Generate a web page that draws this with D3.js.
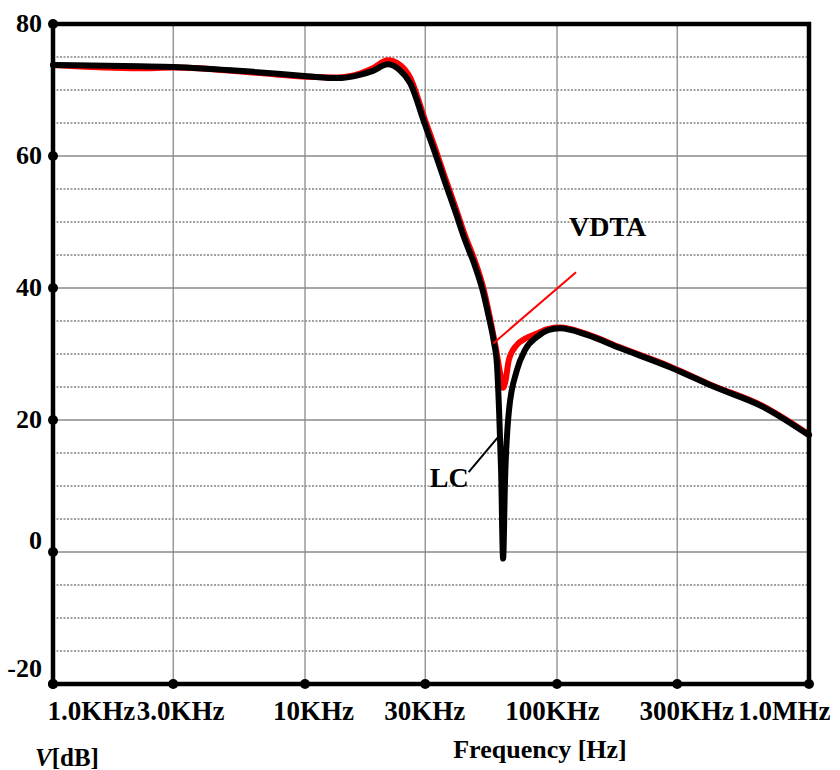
<!DOCTYPE html>
<html>
<head>
    <script src="https://d3js.org/d3.v7.min.js"></script>
    <style>
        body { margin: 0; background: #fff; }
        text { font-family: "Liberation Serif", "Times New Roman", serif; font-weight: bold; fill: #000; }
    </style>
</head>
<body>
    <div id="chart"></div>
    <script>
        // frequencies (Hz)
        const freqHz = [1000, 2200, 3000, 6450, 10200, 13400, 16500, 18600, 21300, 23800, 26100,
            29900, 32800, 35900, 39400, 43100, 47300, 50900, 53700, 56200, 57800, 58900, 60000,
            61100, 62200, 64500, 69400, 74600, 83300, 92100, 102800, 131500, 177800, 280700,
            415900, 656700, 1000000];
        // LC filter response (dB)
        const lcDb = [73.8, 73.6, 73.5, 72.7, 72.1, 71.8, 72.3, 72.9, 73.9, 73.0, 71.1,
            64.8, 60.5, 56.1, 51.7, 47.3, 43.3, 39.4, 35.5, 31.8, 28.3, 21.5, 12.4,
            -1.0, 10.9, 21.5, 27.6, 30.6, 32.6, 33.6, 33.9, 32.9, 30.9, 28.0,
            25.1, 22.0, 17.7];
        // VDTA filter response (dB)
        const vdtaDb = [73.8, 73.3, 73.4, 72.6, 72.0, 71.9, 72.5, 73.3, 74.5, 73.8, 71.9,
            65.5, 61.2, 56.8, 52.4, 48.0, 44.0, 40.1, 36.2, 32.4, 29.9, 28.0, 26.3,
            24.9, 25.6, 29.2, 31.4, 32.3, 33.1, 33.8, 34.0, 33.0, 31.0, 28.1,
            25.2, 22.1, 17.8];

        const xTicks = [1e3, 3e3, 1e4, 3e4, 1e5, 3e5, 1e6];
        const xLabels = ["1.0KHz", "3.0KHz", "10KHz", "30KHz", "100KHz", "300KHz", "1.0MHz"];
        const yTicks = [-20, 0, 20, 40, 60, 80];
        const yMinor = d3.range(-15, 80, 5).filter(d => d % 20 !== 0);

        const width = 840, height = 770;
        const margin = { top: 24, right: 31, bottom: 86, left: 53 };

        const svg = d3.select("#chart").append("svg")
            .attr("width", width)
            .attr("height", height);

        const x = d3.scaleLog().domain([1e3, 1e6]).range([margin.left, width - margin.right]);
        const y = d3.scaleLinear().domain([-20, 80]).range([height - margin.bottom, margin.top]);

        // dotted minor grid
        svg.append("g").selectAll("line").data(yMinor).join("line")
            .attr("x1", x.range()[0]).attr("x2", x.range()[1])
            .attr("y1", d => y(d)).attr("y2", d => y(d))
            .attr("stroke", "#444").attr("stroke-width", 1)
            .attr("stroke-dasharray", "2,1.5");

        // solid grid
        svg.append("g").selectAll("line").data(yTicks.slice(1, -1)).join("line")
            .attr("x1", x.range()[0]).attr("x2", x.range()[1])
            .attr("y1", d => y(d)).attr("y2", d => y(d))
            .attr("stroke", "#8a8a8a").attr("stroke-width", 1.3);
        svg.append("g").selectAll("line").data(xTicks.slice(1, -1)).join("line")
            .attr("x1", d => x(d)).attr("x2", d => x(d))
            .attr("y1", y.range()[0]).attr("y2", y.range()[1])
            .attr("stroke", "#8a8a8a").attr("stroke-width", 1.3);

        // curves
        const line = (vals) => d3.line()
            .x((d, i) => x(freqHz[i]))
            .y(d => y(d))
            .curve(d3.curveMonotoneX)(vals);

        svg.append("path").attr("d", line(vdtaDb))
            .attr("fill", "none").attr("stroke", "#ff0000").attr("stroke-width", 6)
            .attr("stroke-linejoin", "round").attr("stroke-linecap", "round");
        svg.append("path").attr("d", line(lcDb))
            .attr("fill", "none").attr("stroke", "#000").attr("stroke-width", 6)
            .attr("stroke-linejoin", "round").attr("stroke-linecap", "round");

        // frame
        svg.append("rect")
            .attr("x", x.range()[0]).attr("y", y.range()[1])
            .attr("width", x.range()[1] - x.range()[0])
            .attr("height", y.range()[0] - y.range()[1])
            .attr("fill", "none").attr("stroke", "#000").attr("stroke-width", 4.5);

        // tick dots
        svg.append("g").selectAll("circle").data(xTicks).join("circle")
            .attr("cx", d => x(d)).attr("cy", y.range()[0]).attr("r", 5).attr("fill", "#000");
        svg.append("g").selectAll("circle").data(yTicks).join("circle")
            .attr("cx", x.range()[0]).attr("cy", d => y(d)).attr("r", 5).attr("fill", "#000");

        // axes (labels only)
        const xAxis = svg.append("g")
            .attr("transform", `translate(0, ${y.range()[0]})`)
            .call(d3.axisBottom(x).tickValues(xTicks).tickFormat((d, i) => xLabels[i]).tickSize(0).tickPadding(17));
        xAxis.select(".domain").remove();
        xAxis.selectAll("text")
            .style("font-family", "'Liberation Serif', serif").style("font-weight", "bold")
            .style("font-size", "27px").attr("fill", "#000")
            .attr("text-anchor", (d, i) => i === 0 ? "start" : i === xTicks.length - 1 ? "end" : "middle")
            .attr("dx", (d, i) => i === 0 ? -6 : i === xTicks.length - 1 ? 21 : [0, 7, 8, -1, -5, 9][i]);

        const yAxis = svg.append("g")
            .attr("transform", `translate(${x.range()[0]}, 0)`)
            .call(d3.axisLeft(y).tickValues(yTicks).tickFormat(d => String(d)).tickSize(0).tickPadding(11));
        yAxis.select(".domain").remove();
        yAxis.selectAll("text")
            .style("font-family", "'Liberation Serif', serif").style("font-weight", "bold")
            .style("font-size", "26px").attr("fill", "#000")
            .attr("dy", d => d > 0 ? "0.3em" : d === 0 ? "-0.15em" : "-0.3em");

        // axis titles
        svg.append("text")
            .attr("x", 540).attr("y", 758)
            .attr("text-anchor", "middle")
            .style("font-size", "26px")
            .text("Frequency [Hz]");
        const vt = svg.append("text")
            .attr("x", 35).attr("y", 766)
            .style("font-size", "25px");
        vt.append("tspan").style("font-style", "italic").text("V");
        vt.append("tspan").text("[dB]");

        // annotations
        const notchF = freqHz[lcDb.indexOf(d3.min(lcDb))];
        svg.append("line")
            .attr("x1", x(55800)).attr("y1", y(31.6))
            .attr("x2", x(119000)).attr("y2", y(42.4))
            .attr("stroke", "#ff0000").attr("stroke-width", 2);
        svg.append("text")
            .attr("x", x(119000) - 7).attr("y", y(47.9))
            .style("font-size", "28px")
            .text("VDTA");
        svg.append("line")
            .attr("x1", x(notchF * 0.73)).attr("y1", y(12.1))
            .attr("x2", x(notchF * 0.955)).attr("y2", y(17.4))
            .attr("stroke", "#000").attr("stroke-width", 2);
        svg.append("text")
            .attr("x", x(notchF * 0.73)).attr("y", y(9.8))
            .attr("text-anchor", "end")
            .style("font-size", "28px")
            .text("LC");
    </script>
</body>
</html>
